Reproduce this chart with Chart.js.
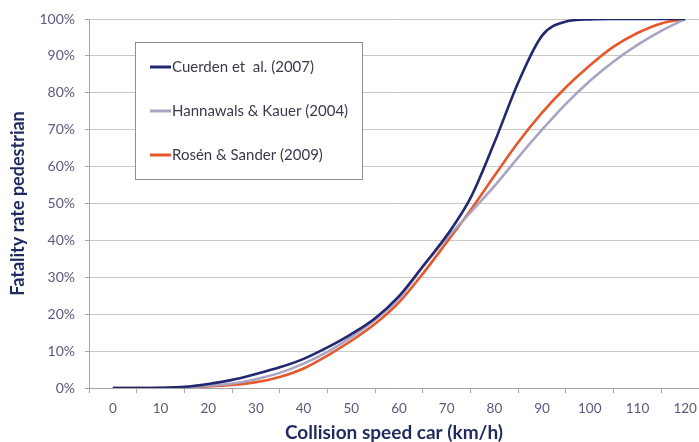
<!DOCTYPE html>
<html>
<head>
<meta charset="utf-8">
<script src="https://cdn.jsdelivr.net/npm/chart.js@4.4.1/dist/chart.umd.min.js"></script>
<style>
  html, body { margin: 0; padding: 0; background: #fff; }
  #wrap { width: 699px; height: 442px; position: relative; }
</style>
</head>
<body>
<div id="wrap"><canvas id="chart"></canvas></div>
<script>
// Collision speed (km/h) and fatality rate (%)
const speeds = [0, 5, 10, 15, 20, 25, 30, 35, 40, 45, 50, 55, 60, 65, 70, 75, 80, 85, 90, 95, 100, 105, 110, 115, 120];
const cuerden = [0, 0, 0.05, 0.3, 1.1, 2.2, 3.8, 5.6, 7.9, 11.0, 14.6, 18.9, 24.9, 33.0, 41.3, 51.5, 66.5, 82.8, 95.5, 99.3, 99.9, 100, 100, 100, 100];
const hannawals = [0, 0, 0, 0.2, 0.6, 1.2, 2.4, 4.1, 6.6, 9.8, 13.8, 18.5, 24.3, 32.8, 40.6, 47.6, 54.7, 62.5, 70.0, 77.0, 83.2, 88.5, 93.0, 96.8, 100];
const rosen = [0, 0, 0, 0.2, 0.4, 0.8, 1.6, 3.0, 5.3, 8.8, 12.8, 17.4, 23.2, 31.0, 39.5, 48.2, 57.5, 66.6, 74.6, 81.5, 87.4, 92.5, 96.2, 98.8, 100];

const xTicks = [0, 10, 20, 30, 40, 50, 60, 70, 80, 90, 100, 110, 120];
const seriesNames = ['Cuerden et  al. (2007)', 'Hannawals & Kauer (2004)', 'Rosén & Sander (2009)'];

const colors = {
  cuerden: '#222870',
  hannawals: '#a8a5c3',
  rosen: '#e4582c'
};

Chart.defaults.font.family = 'Lato, "Open Sans", sans-serif';

function toPoints(values) {
  return speeds.map((s, i) => ({ x: s, y: values[i] }));
}

// Excel-style boxed legend drawn inside the plot
const boxLegend = {
  id: 'boxLegend',
  afterDatasetsDraw(chart) {
    const ctx = chart.ctx;
    const area = chart.chartArea;
    const left = area.left + 46, top = area.top + 23;
    const w = 227, h = 137;
    ctx.save();
    ctx.fillStyle = '#ffffff';
    ctx.fillRect(left, top, w, h);
    ctx.strokeStyle = '#8c8c9c';
    ctx.lineWidth = 1;
    ctx.strokeRect(left + 0.5, top + 0.5, w, h);
    ctx.font = '15px Lato, "Open Sans", sans-serif';
    ctx.textBaseline = 'middle';
    chart.data.datasets.forEach((ds, i) => {
      const y = top + 25 + i * 44;
      ctx.strokeStyle = ds.borderColor;
      ctx.lineWidth = 3;
      ctx.beginPath();
      ctx.moveTo(left + 15, y);
      ctx.lineTo(left + 36, y);
      ctx.stroke();
      ctx.fillStyle = '#3a3a4a';
      ctx.fillText(ds.label, left + 37, y);
    });
    ctx.restore();
  }
};

const datasets = [
  { label: seriesNames[0], data: toPoints(cuerden), borderColor: colors.cuerden },
  { label: seriesNames[1], data: toPoints(hannawals), borderColor: colors.hannawals },
  { label: seriesNames[2], data: toPoints(rosen), borderColor: colors.rosen }
].map(d => Object.assign(d, {
  borderWidth: 2.6,
  pointRadius: 0,
  fill: false,
  cubicInterpolationMode: 'monotone'
}));

new Chart(document.getElementById('chart'), {
  type: 'line',
  data: { datasets: datasets },
  plugins: [boxLegend],
  options: {
    responsive: true,
    maintainAspectRatio: false,
    animation: false,
    layout: { padding: { top: 19, right: 0, bottom: 0, left: 0 } },
    plugins: {
      legend: { display: false },
      tooltip: { enabled: false }
    },
    scales: {
      x: {
        type: 'linear',
        min: -5,
        max: 122.9,
        afterBuildTicks: (scale) => {
          scale.ticks = xTicks.map(v => ({ value: v }));
        },
        afterFit: (scale) => {
          scale.height = 54;
          scale.paddingRight = 0;
          scale.paddingLeft = 0;
        },
        grid: {
          offset: true,
          drawOnChartArea: false,
          drawTicks: true,
          tickLength: 5,
          color: '#a6a6a6',
          tickColor: '#a6a6a6'
        },
        border: { display: true, color: '#a6a6a6', width: 1 },
        ticks: {
          autoSkip: false,
          maxRotation: 0,
          padding: 8,
          color: '#5a5a7d',
          font: { size: 13.5 }
        },
        title: {
          display: true,
          text: 'Collision speed car (km/h)',
          color: '#1f2a5e',
          font: { size: 19, weight: 'bold', lineHeight: 1 },
          padding: { top: 0, bottom: 0 }
        }
      },
      y: {
        min: 0,
        max: 100,
        afterFit: (scale) => { scale.width = 89; },
        grid: {
          color: '#c8c8c8',
          lineWidth: 1,
          drawTicks: true,
          tickLength: 4,
          tickColor: '#a6a6a6'
        },
        border: { display: true, color: '#a6a6a6', width: 1 },
        ticks: {
          stepSize: 10,
          padding: 10,
          color: '#5a5a7d',
          font: { size: 14 },
          callback: (v) => v + '%'
        },
        title: {
          display: true,
          text: 'Fatality rate pedestrian',
          color: '#1f2a5e',
          font: { size: 18, weight: 'bold', lineHeight: 1 },
          padding: { top: 9, bottom: 0 }
        }
      }
    }
  }
});
</script>
</body>
</html>
